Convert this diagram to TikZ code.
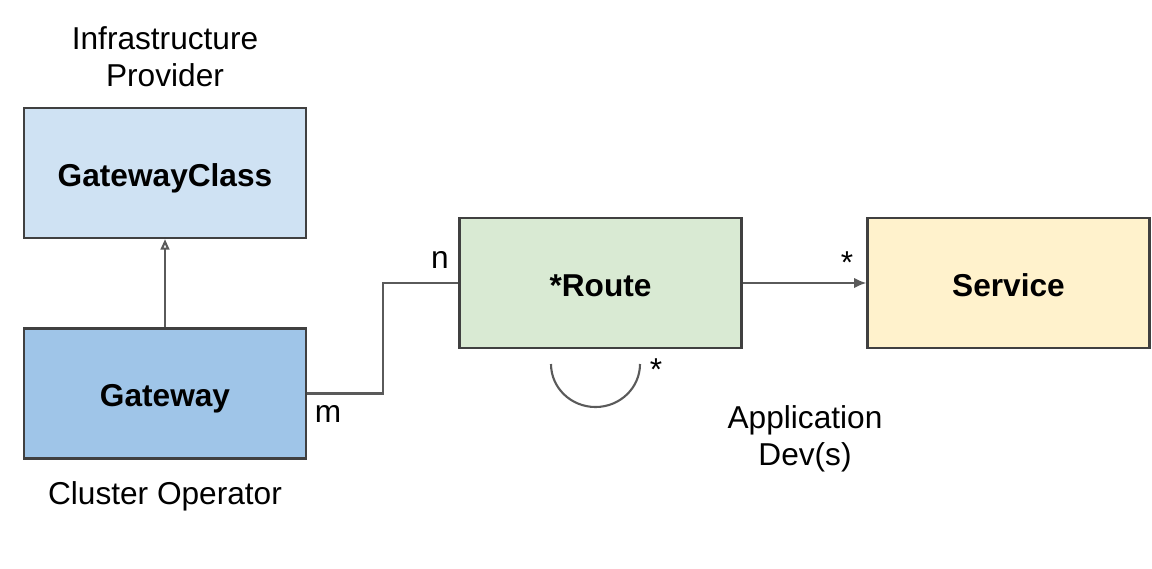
\documentclass[tikz,border=0pt]{standalone}
\usepackage{fontspec}
\setmainfont{Liberation Sans}
\usetikzlibrary{arrows.meta}
\definecolor{classblue}{HTML}{CFE2F3}
\definecolor{gwblue}{HTML}{9FC5E8}
\definecolor{routegreen}{HTML}{D9EAD3}
\definecolor{svcyellow}{HTML}{FFF2CC}
\definecolor{edgegrey}{HTML}{404040}
\definecolor{linegrey}{HTML}{5A5A5A}
\tikzset{%
	block/.style    = {draw=edgegrey, line width=1.3pt, rectangle, minimum width = 5.64cm,
		minimum height = 2.6cm, text height=0.66cm, text depth=0.13cm,
		font=\fontsize{18}{21}\selectfont\bfseries},
	label/.style    = {align=center, font=\fontsize{18}{21}\selectfont}, % role text
	link/.style     = {draw=linegrey, line width=1.2pt} % connector
}
\begin{document}
\begin{tikzpicture}
                \useasboundingbox (0,0) rectangle (23.04,-11.36);

                \node[block, fill=classblue]  (gwclass) at (3.30,-3.46)  {GatewayClass};
                \node[block, fill=gwblue]     (gw)      at (3.30,-7.87)  {Gateway};
                \node[block, fill=routegreen] (route)   at (12.01,-5.66) {*Route};
                \node[block, fill=svcyellow]  (svc)     at (20.17,-5.66) {Service};

                \node[label] (infra)   at (3.30,-1.14)  {Infrastructure\\Provider};
                \node[label] (cluster) at (3.30,-9.93)  {Cluster Operator};
                \node[label] (appdev)  at (16.10,-8.78) {Application\\Dev(s)};

                \node[label] (n)     at (8.80,-5.20)  {n};
                \node[label] (m)     at (6.56,-8.28)  {m};
                \node[label] (star)  at (16.94,-5.26) {*};
                \node[label] (loops) at (13.12,-7.40) {*};

                \draw[link,-{Triangle[open,length=6pt,width=5pt]}] (gw) -- (gwclass);
                \draw[link] (gw.east) -- (7.66,-7.87) -- (7.66,-5.66) -- (route.west);
                \draw[link,-{Latex[length=7pt,width=6pt]}] (route) -- (svc);
                \draw[link] (11.02,-7.28) arc[start angle=180, end angle=360, x radius=0.89, y radius=0.86];
            \end{tikzpicture}
\end{document}
